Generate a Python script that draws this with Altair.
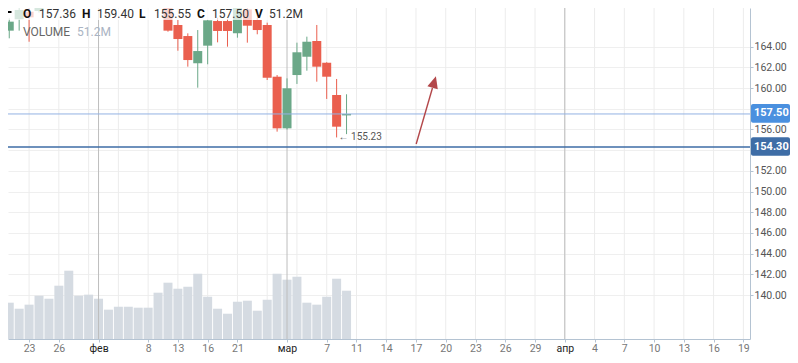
import altair as alt
import pandas as pd

# ---- data (trading-day slots; slot 0 = 19 Jan 2023) ----
slots = list(range(35))
opens = [165.55, 166.65, 167.38, 167.45, 169.6, 170.8, 171.9, 171.4, 170.5, 171.2,
         170.6, 171.0, 171.5, 171.1, 170.4, 169.8, 168.6, 166.1, 165.03, 162.40,
         164.10, 166.48, 166.48, 165.30, 167.61, 166.58, 166.10, 161.10, 156.11, 161.26,
         163.03, 164.55, 162.45, 159.33, 157.36]
highs = [166.74, 167.95, 168.0, 170.1, 171.2, 172.4, 173.5, 172.3, 171.8, 172.0,
         171.5, 171.9, 172.2, 171.8, 171.0, 170.4, 169.0, 166.58, 165.29, 165.61,
         166.60, 166.80, 166.70, 168.20, 168.10, 166.80, 166.32, 161.26, 160.94, 164.39,
         164.97, 166.10, 162.50, 160.88, 159.40]
lows = [164.81, 165.55, 164.48, 167.3, 169.0, 170.2, 170.9, 169.9, 169.6, 170.1,
        169.8, 170.3, 170.8, 170.2, 169.3, 168.0, 165.45, 163.61, 162.07, 160.04,
        162.30, 164.42, 164.00, 164.87, 164.39, 165.20, 160.78, 155.79, 156.00, 160.40,
        161.68, 160.62, 158.95, 155.23, 155.55]
closes = [166.42, 167.55, 166.84, 169.6, 170.8, 171.9, 171.4, 170.5, 171.2, 170.6,
          171.0, 171.5, 171.1, 170.4, 169.8, 168.6, 165.55, 164.74, 162.71, 163.58,
          166.55, 165.52, 165.52, 167.80, 166.03, 165.61, 161.00, 156.11, 159.98, 163.46,
          164.48, 162.07, 161.10, 156.27, 157.50]
volumes = [38.5, 32.1, 36.4, 45.9, 42.7, 56.5, 72.4, 45.9, 47.0, 42.7,
           31.1, 34.2, 34.2, 33.2, 33.2, 49.1, 59.7, 53.3, 55.4, 69.2,
           44.8, 32.1, 26.8, 39.5, 40.6, 30.0, 41.7, 69.2, 62.9, 66.0,
           38.5, 36.4, 44.8, 63.9, 51.2]

tick_slots = [2, 5, 9, 14, 17, 20, 23, 28, 32, 35, 38, 41, 44, 47, 50, 53, 56,
              59, 62, 65, 68, 71, 74]
tick_labels = ["23", "26", "фев", "8", "13", "16", "21", "мар", "7", "11", "14",
               "17", "20", "23", "26", "29", "апр", "4", "7", "10", "13", "16", "19"]
month_slots = [9, 28, 56]
grid_slots = list(range(2, 75, 3))
price_ticks = list(range(140, 166, 2))
level_price = 154.30
arrow_i = [41.02, 42.66]
arrow_p = [154.60, 160.01]
arrow_head_i = [42.84]
arrow_head_p = [160.59]

# ---- styles ----
RED = "#ea5f4e"
GREEN = "#6ba888"
VOLC = "#d5dbe2"
AX = "#b4c3d2"
GRID = "#ececec"
MONTH = "#bdbdbd"
ARROW = "#b3474a"
FONT = "Roboto"
W, H = 742, 331
PX_PER_UNIT = 10.347
P_TOP = 167.74
P_BOT = P_TOP - H / PX_PER_UNIT
VOL_TOP = volumes[-1] * H / 48.3

df = pd.DataFrame({"i": slots, "open": opens, "high": highs, "low": lows,
                   "close": closes, "vol": volumes})
df["dir"] = ["up" if c >= o else "down" for o, c in zip(opens, closes)]

label_expr = "[" + ",".join("'%s'" % t for t in tick_labels) + "][indexof([" + \
    ",".join(str(s) for s in tick_slots) + "], datum.value)]"
month_test = "indexof([" + ",".join(str(s) for s in month_slots) + "], datum.value) >= 0"
hidden = [t for t in price_ticks if min(abs(t - closes[-1]), abs(t - level_price)) < 1.0]
p_label_expr = "indexof([" + ",".join(str(h) for h in hidden) + \
    "], datum.value) >= 0 ? '' : format(datum.value, '.2f')"

X_SCALE = alt.Scale(domain=[0.378, 74.165], nice=False, zero=False)
x_axis = alt.Axis(values=tick_slots, labelExpr=label_expr, grid=False, title=None,
                  domainColor=AX, tickColor=AX, tickSize=3, labelPadding=1,
                  labelFont=FONT, labelFontSize=10.5,
                  labelColor={"condition": {"test": month_test, "value": "#222222"},
                              "value": "#777777"},
                  labelFlush=False, labelOverlap=False, labelBound=False)
P_SCALE = alt.Scale(domain=[P_BOT, P_TOP], nice=False, zero=False)
p_axis = alt.Axis(orient="right", values=price_ticks, labelExpr=p_label_expr, title=None,
                  grid=True, gridColor="#efefef", domainColor=AX, tickColor=AX,
                  tickSize=3, labelPadding=1, labelFont=FONT, labelFontSize=10.5,
                  labelColor="#555555", labelOverlap=False, labelFlush=False)


def X(field="i"):
    return alt.X(f"{field}:Q", scale=X_SCALE, axis=x_axis)


def Y(field):
    return alt.Y(f"{field}:Q", scale=P_SCALE, axis=p_axis)


cdir = alt.Color("dir:N", scale=alt.Scale(domain=["up", "down"], range=[GREEN, RED]),
                 legend=None)

grid = alt.Chart(pd.DataFrame({"i": grid_slots})).mark_rule(
    color=GRID, strokeWidth=1).encode(x=X())
vol = alt.Chart(df).mark_bar(size=9, color=VOLC, clip=True).encode(
    x=X(), y=alt.Y("vol:Q", scale=alt.Scale(domain=[0, VOL_TOP], nice=False), axis=None))
months = alt.Chart(pd.DataFrame({"i": month_slots})).mark_rule(
    color=MONTH, strokeWidth=1).encode(x=X())

wick = alt.Chart(df).mark_rule(strokeWidth=1, clip=True).encode(
    x=X(), y=Y("low"), y2="high:Q", color=cdir)
body = alt.Chart(df).mark_bar(size=9, clip=True).encode(
    x=X(), y=Y("open"), y2="close:Q", color=cdir)

last_df = pd.DataFrame({"p": [closes[-1]], "t": [f"{closes[-1]:.2f}"]})
lvl_df = pd.DataFrame({"p": [level_price], "t": [f"{level_price:.2f}"]})

last_line = alt.Chart(last_df).mark_rule(color="#94b3e3", strokeWidth=1).encode(y=Y("p"))
lvl_line = alt.Chart(lvl_df).mark_rule(color="#3e6da6", strokeWidth=1.5).encode(y=Y("p"))


def box(d, col):
    r = alt.Chart(d).transform_calculate(lo="datum.p - 0.85", hi="datum.p + 0.96").mark_rect(
        color=col, cornerRadius=2).encode(
        x=alt.value(W + 1), x2=alt.value(W + 40), y=Y("lo"), y2="hi:Q")
    t = alt.Chart(d).mark_text(align="left", baseline="middle", color="white", font=FONT,
                               fontSize=11, fontWeight="bold", dy=-0.5).encode(
        x=alt.value(W + 4), y=Y("p"), text="t:N")
    return [r, t]


# low annotation
lo_idx = lows.index(min(lows))
ann_df = pd.DataFrame({"i": [slots[lo_idx]], "p": [lows[lo_idx]],
                       "t": ["\u2190 " + f"{lows[lo_idx]:.2f}"]})
ann = alt.Chart(ann_df).mark_text(align="left", baseline="middle", dx=2, font=FONT,
                                  fontSize=10, color="#555555").encode(
    x=X(), y=Y("p"), text="t:N")

arrow_line = alt.Chart(pd.DataFrame({"i": arrow_i, "p": arrow_p})).mark_line(
    color=ARROW, strokeWidth=1.4).encode(x=X(), y=Y("p"))
arrow_head = alt.Chart(pd.DataFrame({"i": arrow_head_i, "p": arrow_head_p})).mark_point(
    shape="M0,-1L-0.9,1L0.9,1Z", filled=True, size=144, angle=16, color=ARROW,
    opacity=1).encode(x=X(), y=Y("p"))

# legend
one = pd.DataFrame({"a": [0]})
legend_bg = alt.Chart(one).mark_rect(color="white", opacity=0.72).encode(
    x=alt.value(0), x2=alt.value(302), y=alt.value(0), y2=alt.value(12))
dash = alt.Chart(one).mark_rule(color="black", strokeWidth=2).encode(
    x=alt.value(0), x2=alt.value(3.5), y=alt.value(4))
vol_txt = f"{volumes[-1]:.1f}M"
items = [("O", f"{opens[-1]:.2f}", 15, 31), ("H", f"{highs[-1]:.2f}", 74, 89),
         ("L", f"{lows[-1]:.2f}", 131, 146), ("C", f"{closes[-1]:.2f}", 189, 204),
         ("V", vol_txt, 247, 261)]
ROW1 = 5.5
legend_layers = [legend_bg, dash]
for k, v, kx, vx in items:
    legend_layers.append(alt.Chart(one).mark_text(
        align="left", baseline="middle", font=FONT, fontSize=12, fontWeight="bold",
        color="#111111").encode(x=alt.value(kx), y=alt.value(ROW1), text=alt.value(k)))
    legend_layers.append(alt.Chart(one).mark_text(
        align="left", baseline="middle", font=FONT, fontSize=12,
        color="#333333").encode(x=alt.value(vx), y=alt.value(ROW1), text=alt.value(v)))
legend_layers.append(alt.Chart(one).mark_text(
    align="left", baseline="middle", font=FONT, fontSize=12, color="#666666").encode(
    x=alt.value(15), y=alt.value(24), text=alt.value("VOLUME")))
legend_layers.append(alt.Chart(one).mark_text(
    align="left", baseline="middle", font=FONT, fontSize=12, color="#aab4c3").encode(
    x=alt.value(69), y=alt.value(24), text=alt.value(vol_txt)))

price = alt.layer(wick, body, last_line, lvl_line, ann, arrow_line, arrow_head,
                  *legend_layers, *box(last_df, "#4a90df"), *box(lvl_df, "#3e6da6"))

chart = alt.layer(grid, vol, months, price).resolve_scale(y="independent").properties(
    width=W, height=H,
    autosize=alt.AutoSizeParams(type="none"),
    padding={"left": 0, "top": 0, "right": 40, "bottom": 16},
).configure_view(stroke=None)

chart.save("out.html", embed_options={"renderer": "svg", "actions": False})
